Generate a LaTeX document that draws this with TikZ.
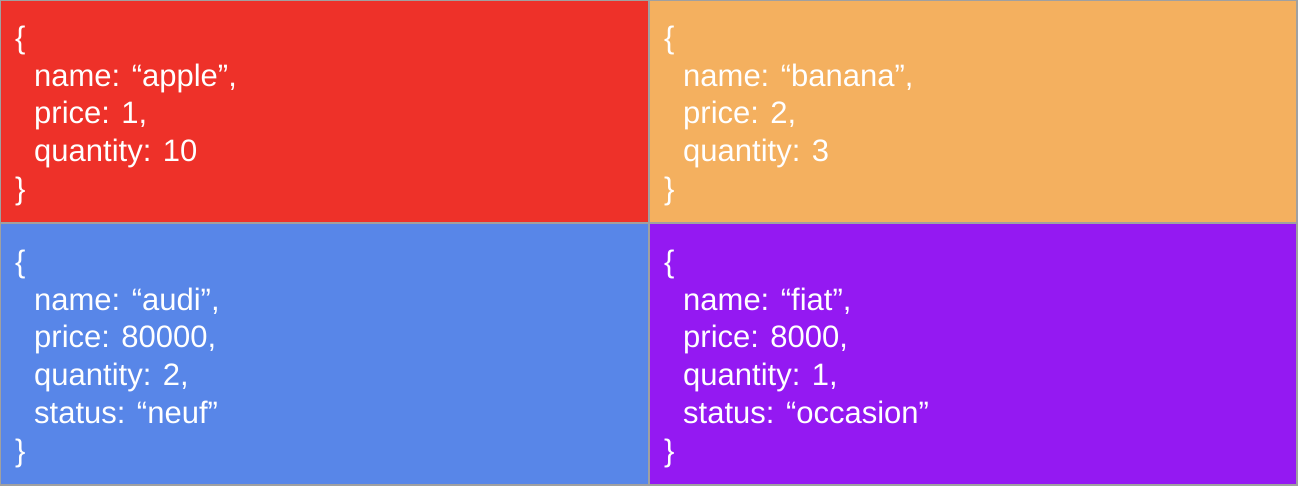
\documentclass[tikz,border=0pt]{standalone}
\usepackage{fontspec}
\setmainfont{Liberation Sans}
\definecolor{cred}{HTML}{EE3129}
\definecolor{corange}{HTML}{F4B05F}
\definecolor{cblue}{HTML}{5886E8}
\definecolor{cpurple}{HTML}{9419F2}
\definecolor{cgrid}{HTML}{A0A0A0}
\begin{document}
\begin{tikzpicture}[x=1pt,y=-1pt,
  cell/.style={draw=cgrid,line width=2pt},
  ln/.style={anchor=base west,inner sep=0pt,text=white,font=\fontsize{31}{37}\selectfont}]
\useasboundingbox (0,0) rectangle (1299,487);
\fill[cred] (0,0) rectangle (649,223);
\fill[corange] (649,0) rectangle (1297,223);
\fill[cblue] (0,223) rectangle (649,485);
\fill[cpurple] (649,223) rectangle (1297,485);
\draw[cell] (0,0) rectangle (1297,485);
\draw[cell] (649,0) -- (649,485);
\draw[cell] (0,223) -- (1297,223);
% apple
\node[ln] (a0) at (15,48.5) {\{};
\node[ln] (a1) at (34,86.2) {name: “apple”,};
\node[ln] (a2) at (34,123.9) {price: 1,};
\node[ln] (a3) at (34,161.6) {quantity: 10};
\node[ln] (a4) at (15,199.3) {\}};
% banana
\node[ln] (b0) at (664,48.5) {\{};
\node[ln] (b1) at (683,86.2) {name: “banana”,};
\node[ln] (b2) at (683,123.9) {price: 2,};
\node[ln] (b3) at (683,161.6) {quantity: 3};
\node[ln] (b4) at (664,199.3) {\}};
% audi
\node[ln] (c0) at (15,272.5) {\{};
\node[ln] (c1) at (34,310.2) {name: “audi”,};
\node[ln] (c2) at (34,347.9) {price: 80000,};
\node[ln] (c3) at (34,385.6) {quantity: 2,};
\node[ln] (c4) at (34,423.3) {status: “neuf”};
\node[ln] (c5) at (15,461) {\}};
% fiat
\node[ln] (d0) at (664,272.5) {\{};
\node[ln] (d1) at (683,310.2) {name: “fiat”,};
\node[ln] (d2) at (683,347.9) {price: 8000,};
\node[ln] (d3) at (683,385.6) {quantity: 1,};
\node[ln] (d4) at (683,423.3) {status: “occasion”};
\node[ln] (d5) at (664,461) {\}};
\end{tikzpicture}
\end{document}
